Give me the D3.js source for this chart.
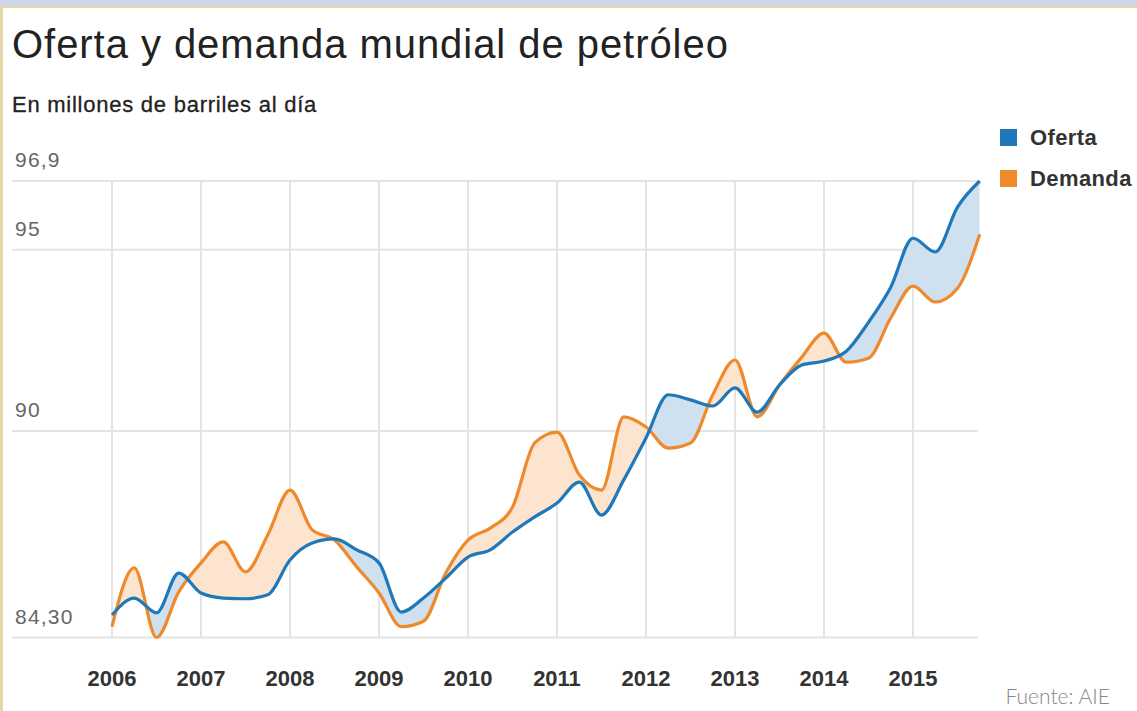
<!DOCTYPE html>
<html>
<head>
<meta charset="utf-8">
<script src="https://cdn.jsdelivr.net/npm/d3@7"></script>
<style>
  body { margin: 0; background: #fff; }
  svg { display: block; font-family: "Liberation Sans", Arial, sans-serif; }
</style>
</head>
<body>
<svg width="1137" height="711"></svg>
<script>
// quarterly values, 2006 Q1 .. 2015 Q4
const years = [2006, 2007, 2008, 2009, 2010, 2011, 2012, 2013, 2014, 2015];
const yTicks = [84.3, 90, 95, 96.9];
const yTickLabels = ["84,30", "90", "95", "96,9"];
const oferta = [
  84.92, 85.39, 84.98, 86.08, 85.53, 85.39, 85.37, 85.48,
  86.44, 86.91, 87.02, 86.72, 86.36, 85.0, 85.39, 85.94,
  86.52, 86.72, 87.21, 87.63, 88.01, 88.59, 87.68, 88.65,
  89.81, 91.0, 90.86, 90.69, 91.19, 90.52, 91.27, 91.82,
  91.93, 92.2, 93.0, 93.97, 95.32, 94.94, 96.18, 96.9
];
const demanda = [
  84.6, 86.22, 84.3, 85.56, 86.36, 86.94, 86.11, 87.13,
  88.37, 87.27, 86.99, 86.25, 85.53, 84.6, 84.75, 86.08,
  86.99, 87.32, 87.9, 89.67, 89.97, 88.79, 88.37, 90.39,
  90.11, 89.53, 89.67, 91.0, 91.96, 90.39, 91.27, 92.04,
  92.7, 91.9, 92.01, 93.12, 94.0, 93.56, 93.94, 95.43
];
const series = ["Oferta", "Demanda"];
const colors = ["#1f78b8", "#ee8a2c"];
const fills = ["#cfe1f1", "#fde4cf"];

const svg = d3.select("svg");

// frame
svg.append("rect").attr("x", 0).attr("y", 0).attr("width", 1137).attr("height", 7).attr("fill", "#cfd5e8");
svg.append("rect").attr("x", 0).attr("y", 6).attr("width", 1137).attr("height", 2).attr("fill", "#e4d6a6");
svg.append("rect").attr("x", 0).attr("y", 6).attr("width", 3).attr("height", 705).attr("fill", "#e4d6a6");

const data = oferta.map((d, i) => ({ t: 2006 + i / 4, o: d, dm: demanda[i] }));

const x = d3.scaleLinear().domain([2006, 2015]).range([112, 913]);
const y = d3.scaleLinear().domain([90, 96.9]).range([431, 181]);

// grid
const grid = svg.append("g").attr("stroke", "#e4e4e4").attr("stroke-width", 2);
grid.selectAll("line.h")
  .data(yTicks)
  .enter()
  .append("line")
  .attr("x1", 12)
  .attr("x2", 978)
  .attr("y1", d => y(d))
  .attr("y2", d => y(d));
grid.selectAll("line.v")
  .data(years)
  .enter()
  .append("line")
  .attr("x1", d => x(d))
  .attr("x2", d => x(d))
  .attr("y1", y(96.9))
  .attr("y2", y(84.3));

// y labels
svg.append("g")
  .selectAll("text")
  .data(yTicks)
  .enter()
  .append("text")
  .attr("x", 15)
  .attr("y", d => y(d) - 14)
  .attr("font-size", 21)
  .attr("letter-spacing", 1.2)
  .attr("fill", "#666")
  .text((d, i) => yTickLabels[i]);

// x labels
svg.append("g")
  .selectAll("text")
  .data(years)
  .enter()
  .append("text")
  .attr("x", d => x(d))
  .attr("y", 686)
  .attr("text-anchor", "middle")
  .attr("font-size", 22)
  .attr("font-weight", "bold")
  .attr("fill", "#333")
  .text(d => d);

// difference fills
const curve = d3.curveMonotoneX;
const defs = svg.append("defs");
defs.append("clipPath").attr("id", "above")
  .append("path")
  .attr("d", d3.area().curve(curve).x(d => x(d.t)).y0(0).y1(d => y(d.dm))(data));
defs.append("clipPath").attr("id", "below")
  .append("path")
  .attr("d", d3.area().curve(curve).x(d => x(d.t)).y0(711).y1(d => y(d.dm))(data));

const band = d3.area().curve(curve).x(d => x(d.t)).y0(d => y(d.o)).y1(d => y(d.dm));
svg.append("path").attr("clip-path", "url(#above)").attr("fill", fills[0]).attr("d", band(data));
svg.append("path").attr("clip-path", "url(#below)").attr("fill", fills[1]).attr("d", band(data));

// lines
const lineO = d3.line().curve(curve).x(d => x(d.t)).y(d => y(d.o));
const lineD = d3.line().curve(curve).x(d => x(d.t)).y(d => y(d.dm));
svg.append("path").attr("fill", "none").attr("stroke", colors[1]).attr("stroke-width", 3.2)
  .attr("stroke-linejoin", "round").attr("d", lineD(data));
svg.append("path").attr("fill", "none").attr("stroke", colors[0]).attr("stroke-width", 3.2)
  .attr("stroke-linejoin", "round").attr("d", lineO(data));

// titles
svg.append("text").attr("x", 12).attr("y", 58)
  .attr("font-size", 40).attr("letter-spacing", 0.95)
  .attr("fill", "#222").text("Oferta y demanda mundial de petróleo");
svg.append("text").attr("x", 12).attr("y", 112)
  .attr("font-size", 22).attr("letter-spacing", 0.75)
  .attr("stroke", "#222").attr("stroke-width", 0.3)
  .attr("fill", "#222").text("En millones de barriles al día");

// legend
const legend = svg.append("g")
  .selectAll("g")
  .data(series)
  .enter()
  .append("g")
  .attr("transform", (d, i) => `translate(1000, ${129 + i * 41})`);
legend.append("rect").attr("width", 17).attr("height", 17).attr("fill", (d, i) => colors[i]);
legend.append("text").attr("x", 30).attr("y", 16)
  .attr("font-size", 22).attr("letter-spacing", 0.4)
  .attr("font-weight", "bold").attr("fill", "#333").text(d => d);

svg.append("text").attr("x", 1110).attr("y", 704).attr("text-anchor", "end")
  .attr("font-family", "Lato, sans-serif").attr("font-weight", 300)
  .attr("font-size", 21).attr("fill", "#888").text("Fuente: AIE");
</script>
</body>
</html>
